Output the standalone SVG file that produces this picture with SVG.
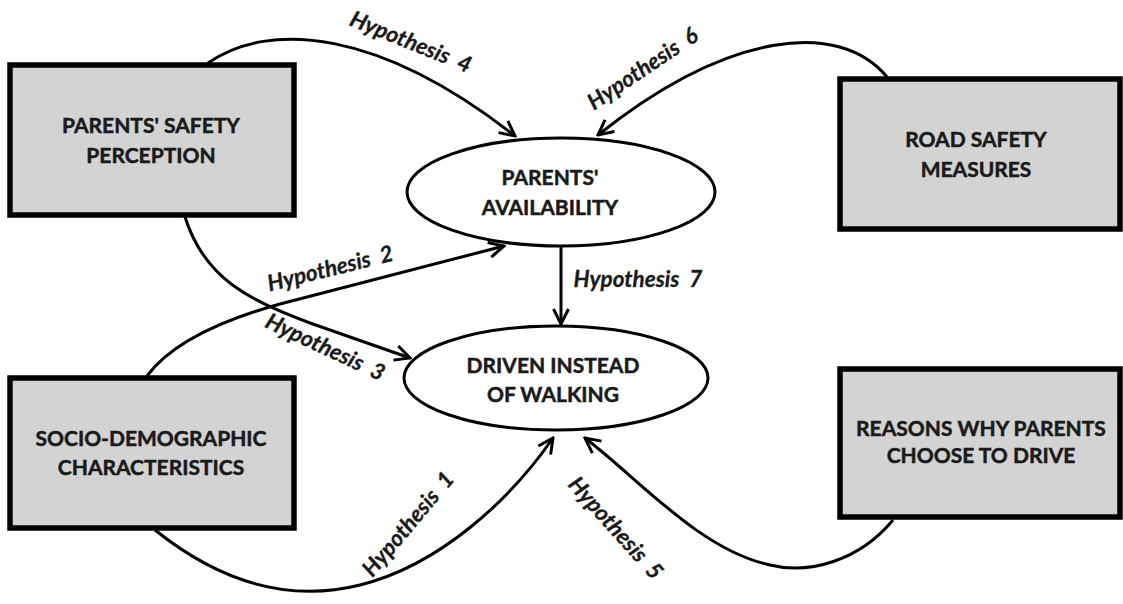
<svg xmlns="http://www.w3.org/2000/svg" width="1123" height="604" viewBox="0 0 1123 604">
<style>
.box{fill:#d3d3d3;stroke:#000;stroke-width:5.5}
.ell{fill:#fff;stroke:#000;stroke-width:3}
.lbl{font-family:Lato,"Open Sans",sans-serif;font-weight:bold;font-size:21px;fill:#1a1a1a;stroke:#1a1a1a;stroke-width:0.5;text-anchor:middle}
.hyp{font-family:Lato,"Open Sans",sans-serif;font-weight:bold;font-style:italic;font-size:22.5px;fill:#1a1a1a;stroke:#1a1a1a;stroke-width:0.3;text-anchor:middle;word-spacing:5px}
.con{fill:none;stroke:#000;stroke-width:3;marker-end:url(#ah)}
</style>
<defs>
<marker id="ah" markerUnits="userSpaceOnUse" markerWidth="20" markerHeight="20" viewBox="0 0 20 20" refX="18" refY="10" orient="auto">
<path d="M3,2.5 L18,10 L3,17.5" fill="none" stroke="#000" stroke-width="3" stroke-linejoin="miter"/>
</marker>
</defs>
<rect width="1123" height="604" fill="#fff"/>
<g id="connectors">
<path class="con" d="M208,63 C270,20 380,30 515,136"/>
<path class="con" d="M887,77 C840,20 730,30 598,135"/>
<path class="con" d="M147,376 C170,345 215,322 280,304 L504,246"/>
<path class="con" d="M185,217 C205,280 250,300 310,323 L410,358"/>
<path class="con" d="M561,247 L561,324"/>
<path class="con" d="M155,530 C230,590 300,600 360,585 C440,565 510,500 553,438"/>
<path class="con" d="M893,520 C860,560 810,575 770,565 C700,550 640,480 585,438"/>
<text class="hyp" transform="translate(408,49) rotate(22)">Hypothesis 4</text>
<text class="hyp" transform="translate(647,75) rotate(-34)">Hypothesis 6</text>
<text class="hyp" transform="translate(332,276) rotate(-14)">Hypothesis 2</text>
<text class="hyp" transform="translate(322,354) rotate(25)">Hypothesis 3</text>
<text class="hyp" x="638" y="287">Hypothesis 7</text>
<text class="hyp" transform="translate(414,529) rotate(-50)">Hypothesis 1</text>
<text class="hyp" transform="translate(610,533) rotate(48)">Hypothesis 5</text>
</g>
<g id="safety-perception">
<rect class="box" x="10" y="65" width="284" height="150"/>
<text class="lbl" x="151" y="133">PARENTS' SAFETY</text>
<text class="lbl" x="151" y="163">PERCEPTION</text>
</g>
<g id="socio-demographic">
<rect class="box" x="10" y="378" width="284" height="150"/>
<text class="lbl" x="151" y="446">SOCIO-DEMOGRAPHIC</text>
<text class="lbl" x="151" y="475">CHARACTERISTICS</text>
</g>
<g id="road-safety">
<rect class="box" x="840" y="79" width="280" height="150"/>
<text class="lbl" x="976" y="147">ROAD SAFETY</text>
<text class="lbl" x="976" y="177">MEASURES</text>
</g>
<g id="reasons">
<rect class="box" x="840" y="369" width="280" height="148"/>
<text class="lbl" x="981" y="436">REASONS WHY PARENTS</text>
<text class="lbl" x="981" y="463">CHOOSE TO DRIVE</text>
</g>
<g id="availability">
<ellipse class="ell" cx="561" cy="192" rx="154" ry="54"/>
<text class="lbl" x="550" y="185">PARENTS'</text>
<text class="lbl" x="550" y="215">AVAILABILITY</text>
</g>
<g id="driven">
<ellipse class="ell" cx="556" cy="378" rx="152" ry="52"/>
<text class="lbl" x="553" y="373">DRIVEN INSTEAD</text>
<text class="lbl" x="553" y="402">OF WALKING</text>
</g>
</svg>
